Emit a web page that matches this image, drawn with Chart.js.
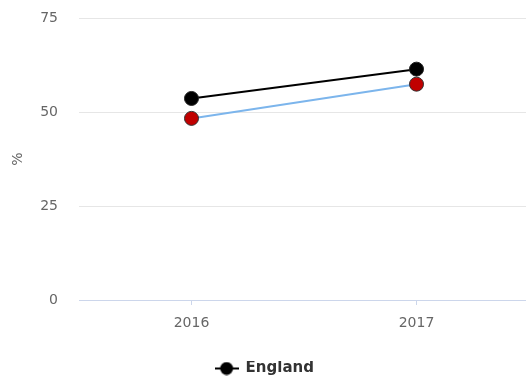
<!DOCTYPE html>
<html>
<head>
<meta charset="utf-8">
<script src="https://cdn.jsdelivr.net/npm/chart.js@4/dist/chart.umd.min.js"></script>
<style>
html,body{margin:0;padding:0;background:#fff;overflow:hidden;}
canvas{display:block;}
</style>
</head>
<body>
<canvas id="c" width="529" height="376"></canvas>
<script>
const categories = ['2016', '2017'];
const englandValues = [53.6, 61.4];
const areaValues = [48.3, 57.4];
const yTicks = [0, 25, 50, 75];
const seriesNames = ['England', 'Local area'];

// legend symbol: line with circle
const sym = document.createElement('canvas');
sym.width = 24; sym.height = 14;
(function(){
  const g = sym.getContext('2d');
  g.strokeStyle = '#000'; g.lineWidth = 2;
  g.beginPath(); g.moveTo(0, 7); g.lineTo(24, 7); g.stroke();
  g.fillStyle = '#000';
  g.beginPath(); g.arc(12, 7, 6.5, 0, Math.PI * 2); g.fill();
})();

const FONT = "'DejaVu Sans', sans-serif";

new Chart(document.getElementById('c'), {
  type: 'line',
  data: {
    labels: categories,
    datasets: [
      { label: seriesNames[0], data: englandValues, borderColor: '#000', borderWidth: 2, backgroundColor: '#000',
        pointBackgroundColor: '#000', pointBorderColor: '#222', pointBorderWidth: 1, pointRadius: 7, order: 1 },
      { label: seriesNames[1], data: areaValues, borderColor: '#7cb5ec', borderWidth: 2, backgroundColor: '#c00000',
        pointBackgroundColor: '#c00000', pointBorderColor: '#333', pointBorderWidth: 1, pointRadius: 7, order: 2 }
    ]
  },
  options: {
    responsive: false,
    animation: false,
    layout: { autoPadding: false, padding: { left: 0, right: 0, top: 18, bottom: -10 } },
    plugins: {
      tooltip: { enabled: false },
      legend: {
        position: 'bottom',
        labels: {
          usePointStyle: true, pointStyleWidth: 23,
          font: { family: FONT, size: 15, weight: 'bold' }, color: '#333', padding: 0,
          filter: (item) => item.datasetIndex === 0,
          generateLabels: (chart) => {
            const items = Chart.defaults.plugins.legend.labels.generateLabels(chart);
            items.forEach(it => { it.pointStyle = sym; });
            return items;
          }
        }
      }
    },
    scales: {
      x: {
        offset: true,
        grid: { offset: false, drawOnChartArea: false, drawTicks: true, tickLength: 5, color: '#ccd6eb' },
        border: { display: true, color: '#ccd6eb', width: 1 },
        ticks: { color: '#666', font: { family: FONT, size: 14 }, padding: 10 },
        afterFit: (s) => { s.height = 61; }
      },
      y: {
        min: 0, max: 75,
        afterBuildTicks: (s) => { s.ticks = yTicks.map(v => ({ value: v })); },
        grid: { color: '#e6e6e6', drawTicks: true, tickLength: 19, tickColor: 'rgba(0,0,0,0)', lineWidth: 1 },
        border: { display: false },
        ticks: { color: '#666', font: { family: FONT, size: 14 }, padding: 2 },
        title: { display: true, text: '%', color: '#666', font: { family: FONT, size: 14 }, padding: { top: 10, bottom: 0 } },
        afterFit: (s) => { s.width = 79; }
      }
    }
  }
});
</script>
</body>
</html>
